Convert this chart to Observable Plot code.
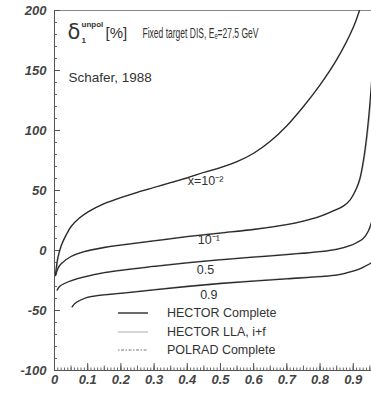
<!DOCTYPE html>
<html><head><meta charset="utf-8">
<script src="https://cdn.jsdelivr.net/npm/d3@7"></script>
<script src="https://cdn.jsdelivr.net/npm/@observablehq/plot@0.6"></script>
<style>
body{margin:0;background:#fff;font-family:"Liberation Sans",Arial,sans-serif}
#wrap{position:relative;width:371px;height:416px;overflow:hidden}
#legend{position:absolute;left:118px;top:304px;font-size:12.5px;color:#333}
#legend .row{height:18.5px;display:flex;align-items:center}
#legend svg{width:49px;height:10px;margin-right:0}
</style></head><body><div id="wrap"><div id="legend"></div></div>
<script>
// ---- data ----
const curve1X = [0.003,0.01,0.02,0.035,0.05,0.075,0.1,0.15,0.2,0.25,0.3,0.35,0.4,0.45,0.5,0.55,0.6,0.65,0.7,0.75,0.8,0.85,0.9,0.93];
const curve1Y = [-20,-6,4,13,20,27,32,39,44,48.5,52.5,56.5,60.5,65,69,74,81,91,104,120,138,159,186,210];
const curve2X = [0.003,0.01,0.02,0.05,0.09,0.15,0.2,0.3,0.4,0.5,0.6,0.7,0.75,0.8,0.84,0.87,0.89,0.91,0.92,0.93,0.94,0.95,0.96];
const curve2Y = [-21,-15,-11,-5,-1,2.5,4.5,8,11.5,14.5,17.5,21.5,24.5,28.5,33,37,42,52,60,74,94,122,160];
const curve3X = [0.008,0.015,0.03,0.07,0.14,0.2,0.3,0.4,0.5,0.6,0.7,0.75,0.8,0.85,0.89,0.91,0.93,0.945,0.96];
const curve3Y = [-33,-30,-27.5,-23.5,-19,-16.5,-13.3,-10.3,-7.8,-5.6,-3.4,-2.3,-1,1,4,6.5,10,16,28];
const curve4X = [0.053,0.06,0.07,0.09,0.11,0.15,0.2,0.3,0.4,0.5,0.6,0.7,0.8,0.85,0.88,0.91,0.93,0.95,0.96];
const curve4Y = [-47,-44.5,-42.5,-40,-38.5,-37,-35.8,-32.8,-30,-27.5,-25.5,-23.6,-21.8,-20.5,-18.7,-16.3,-14,-11,-9.5];
const curveLabels = ["x=10\u207B\u00B2","10\u207B\u00B9","0.5","0.9"];
const labelX = [0.455,0.465,0.455,0.465];
const labelY = [58,8.6,-16.5,-37];
const yMajorTicks = [-100,-50,0,50,100,150,200];
const xMajorTicks = [0,0.1,0.2,0.3,0.4,0.5,0.6,0.7,0.8,0.9];
const legendLabels = ["HECTOR Complete","HECTOR LLA, i+f","POLRAD Complete"];
const titleText = "Fixed target DIS, E\u2091=27.5 GeV";
const authorText = "Schafer, 1988";

const curves = [[curve1X,curve1Y],[curve2X,curve2Y],[curve3X,curve3Y],[curve4X,curve4Y]];
const rows = curves.flatMap(([xs,ys],i)=>xs.map((x,j)=>({curve:i,x,v:ys[j]})));
const labels = curveLabels.map((t,i)=>({t,x:labelX[i],v:labelY[i]}));
const yMinor = d3.range(-100,201,10);
const xMinor = d3.range(0,96).map(i=>i/100);
const xMid = d3.range(0,20).map(i=>i*0.05);

const tickFont = {fontSize:13, fontStyle:"italic", fontWeight:"bold", fill:"#444"};
const ann = (t, dx, dy, o={}) => Plot.text([t], {frameAnchor:"top-left", text:d=>d, dx, dy, textAnchor:"start", lineAnchor:"middle", fill:"#333", ...o});

const plot = Plot.plot({
  width:371, height:416,
  marginLeft:54, marginRight:0, marginTop:10, marginBottom:46,
  style:{fontFamily:"'Liberation Sans', Arial, sans-serif", background:"#fff"},
  x:{domain:[0,0.955], label:null},
  y:{domain:[-100,200], label:null},
  marks:[
    Plot.ruleY([200],{stroke:"#888",strokeWidth:1}),
    Plot.ruleX([0],{stroke:"#555",strokeWidth:1}),
    Plot.ruleY([-100],{stroke:"#555",strokeWidth:1}),
    Plot.axisY(yMinor,{tickSize:-3,tickFormat:()=>"",stroke:"#666",label:null}),
    Plot.axisY(yMajorTicks,{tickSize:-6,tickPadding:14,tickFormat:d=>String(d),stroke:"#555",label:null,...tickFont}),
    Plot.axisX(xMinor,{tickSize:-2.5,tickFormat:()=>"",stroke:"#666",label:null}),
    Plot.axisX(xMid,{tickSize:-4.5,tickFormat:()=>"",stroke:"#666",label:null}),
    Plot.axisX(xMajorTicks,{tickSize:-7,tickPadding:11,tickFormat:d=>String(d),stroke:"#555",label:null,...tickFont}),
    Plot.line(rows,{x:"x",y:"v",z:"curve",stroke:"#999",strokeWidth:0.7,dx:0.8,dy:-0.6,curve:"catmull-rom",clip:true}),
    Plot.line(rows,{x:"x",y:"v",z:"curve",stroke:"#2a2a2a",strokeWidth:1.3,curve:"catmull-rom",clip:true}),
    Plot.text(labels,{x:"x",y:"v",text:"t",fontSize:12.5,fill:"#333"}),
    ann("\u03B4",13,22,{fontSize:21,fontFamily:"DejaVu Sans"}),
    ann("1",27,30,{fontSize:8,fontWeight:"bold"}),
    ann("unpol",27,14,{fontSize:8,fontWeight:"bold"}),
    ann("[%]",51,23,{fontSize:15}),
    ann(titleText,88,23,{fontSize:14}),
    ann(authorText,14,67,{fontSize:13.5})
  ]
});
d3.select(plot).selectAll("text").filter(function(){return this.textContent===titleText;})
  .attr("textLength",116).attr("lengthAdjust","spacingAndGlyphs");
document.getElementById("wrap").prepend(plot);

const swatches = [
  {stroke:"#2a2a2a",w:1.4,dash:null},
  {stroke:"#999",w:0.8,dash:null},
  {stroke:"#666",w:0.9,dash:"1.5,1.5,3,1.5"}
];
const lg = d3.select("#legend");
legendLabels.forEach((t,i)=>{
  const r = lg.append("div").attr("class","row");
  const s = r.append("svg");
  s.append("line").attr("x1",0).attr("x2",30).attr("y1",5).attr("y2",5)
    .attr("stroke",swatches[i].stroke).attr("stroke-width",swatches[i].w)
    .attr("stroke-dasharray",swatches[i].dash);
  r.append("span").text(t);
});
</script>
</body></html>
